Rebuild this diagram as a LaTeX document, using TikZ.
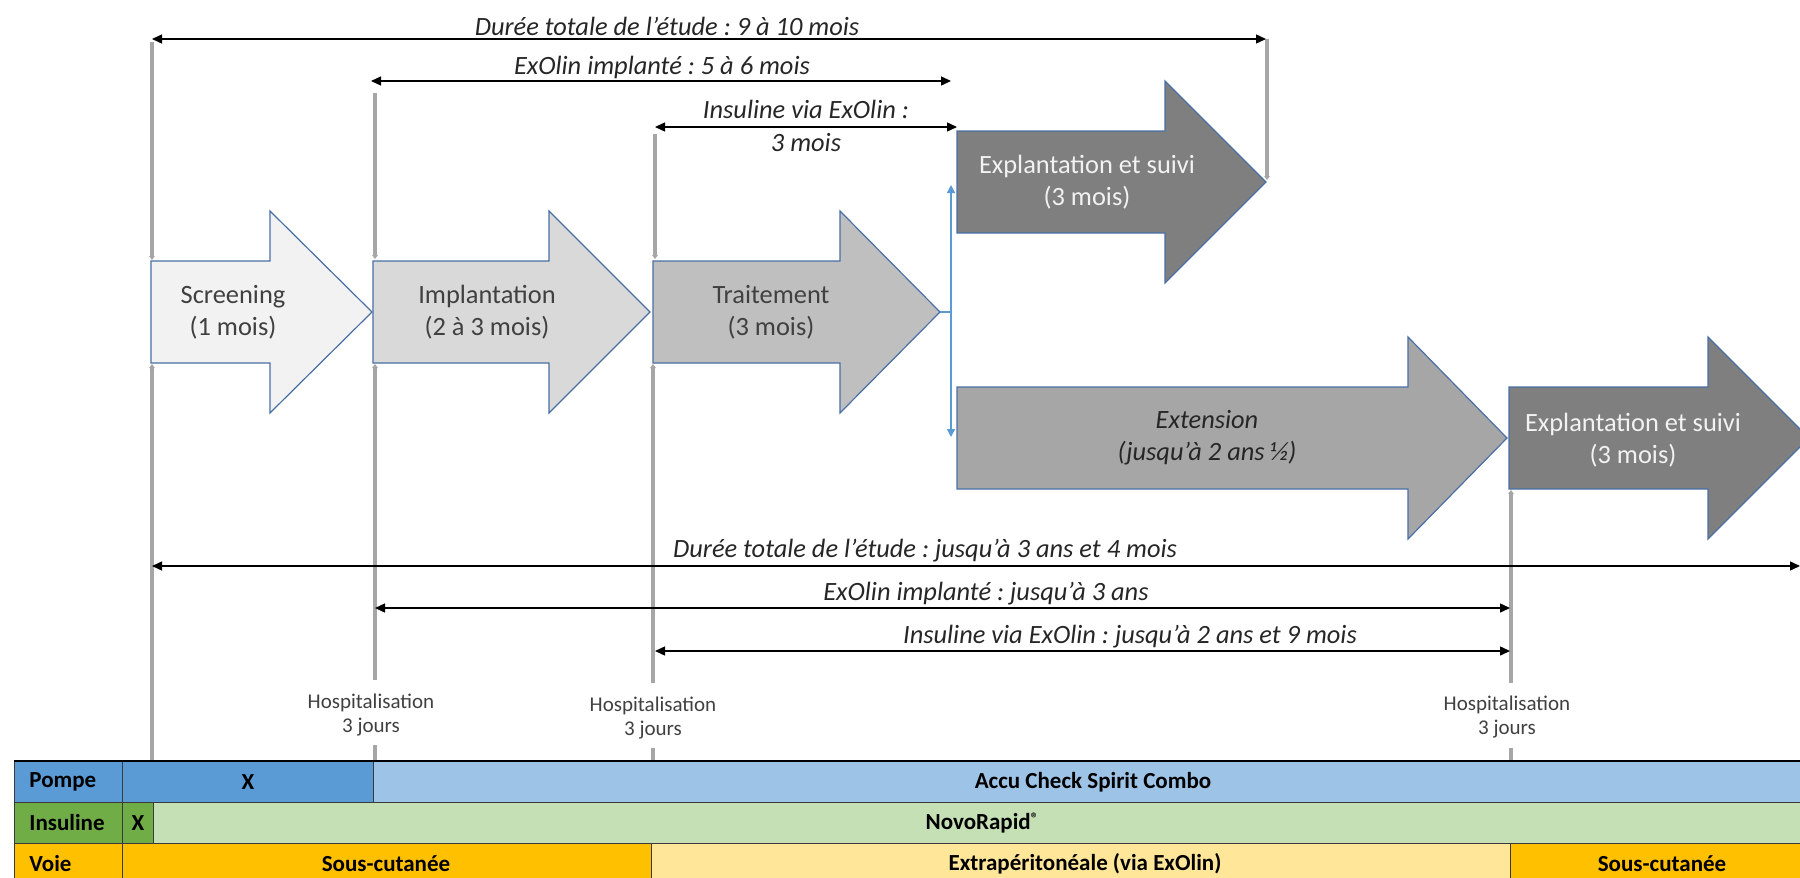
\documentclass[tikz,border=0pt]{standalone}
\usepackage{fontspec}
\setmainfont{Carlito}
\usetikzlibrary{arrows.meta}
\frenchspacing
\definecolor{edgeblue}{HTML}{4A6FA5}
\definecolor{gl}{HTML}{A6A6A6}
\definecolor{cA}{HTML}{F2F2F2}
\definecolor{cB}{HTML}{D9D9D9}
\definecolor{cC}{HTML}{BFBFBF}
\definecolor{cD}{HTML}{7F7F7F}
\definecolor{cE}{HTML}{A6A6A6}
\definecolor{txtdark}{HTML}{404040}
\definecolor{txtblack}{HTML}{262626}
\definecolor{conn}{HTML}{5B9BD5}
\definecolor{pompeD}{HTML}{5B9BD5}
\definecolor{pompeL}{HTML}{9DC3E6}
\definecolor{insD}{HTML}{70AD47}
\definecolor{insL}{HTML}{C5E0B4}
\definecolor{voieD}{HTML}{FFC000}
\definecolor{voieL}{HTML}{FFE699}
\definecolor{tblline}{HTML}{3A3A3A}
\newcommand\blkarrow[5]{%
  \path[#1] (#2,#5-51) -- (#3,#5-51) -- (#3,#5-101) -- (#4,#5) -- (#3,#5+101) -- (#3,#5+51) -- (#2,#5+51) -- cycle;}
\begin{document}
\begin{tikzpicture}[x=0.5pt,y=-0.5pt,
  blk/.style={draw=edgeblue, line width=0.6pt, line join=miter, fill=#1},
  gline/.style={draw=gl, line width=2pt},
  garr/.style={gline, -{Triangle[length=2pt,width=2.8pt]}},
  dimarr/.style={draw=black, line width=0.7pt, {Triangle[length=5pt,width=4.5pt]}-{Triangle[length=5pt,width=4.5pt]}},
  bconn/.style={draw=conn, line width=0.7pt},
  bconnarr/.style={bconn, -{Triangle[length=4pt,width=4pt]}},
  lbl/.style={font=\itshape\fontsize{13.2}{16.5}\selectfont, text=txtblack, inner sep=0pt, align=center},
  boxtxt/.style={font=\fontsize{13.2}{16}\selectfont, align=center, inner sep=0pt},
  hosp/.style={font=\fontsize{10.5}{12}\selectfont, align=center, text=txtdark, inner sep=0pt},
  cell/.style={draw=tblline, line width=0.5pt, fill=#1},
  tbl/.style={font=\bfseries\fontsize{11.5}{13}\selectfont, text=black, inner sep=0pt}
]
\useasboundingbox (0,0) rectangle (1800,878);
\clip (0,0) rectangle (1800,878);

% ---------- block arrows ----------
\blkarrow{blk=cA}{151}{270}{372}{312}
\blkarrow{blk=cB}{373}{549}{650}{312}
\blkarrow{blk=cC}{653}{840}{940}{312}
\blkarrow{blk=cD}{957}{1165}{1266}{182}
\blkarrow{blk=cE}{957}{1408}{1507}{438}
\blkarrow{blk=cD}{1509}{1708}{1809}{438}

\node[boxtxt, text=txtdark] (scr) at (233,312) {Screening\\(1 mois)};
\node[boxtxt, text=txtdark] (impl) at (487,312) {Implantation\\(2 à 3 mois)};
\node[boxtxt, text=txtdark] (trt) at (771,312) {Traitement\\(3 mois)};
\node[boxtxt, text=cA] (expl1) at (1087,182) {Explantation et suivi\\(3 mois)};
\node[boxtxt, text=txtblack, font=\itshape\fontsize{13.2}{16}\selectfont] (ext) at (1207,438) {Extension\\(jusqu’à 2 ans ½)};
\node[boxtxt, text=cA] (expl2) at (1633,440) {Explantation et suivi\\(3 mois)};

% ---------- blue fork connector ----------
\coordinate (trtTip) at (940,312);
\coordinate (fork) at (951,312);
\coordinate (forkUp) at (951,185);
\coordinate (forkDn) at (951,437);
\draw[bconnarr] (trtTip) -- (fork) -- (forkUp);
\draw[bconnarr] (fork) -- (forkDn);

% ---------- grey vertical lines (top) ----------
\coordinate (g1a) at (152,42);  \coordinate (g1b) at (152,260);
\coordinate (g2a) at (375,93);  \coordinate (g2b) at (375,259);
\coordinate (g3a) at (655,134); \coordinate (g3b) at (655,259);
\coordinate (g4a) at (1267,39); \coordinate (g4b) at (1267,180);
\draw[garr] (g1a) -- (g1b);
\draw[garr] (g2a) -- (g2b);
\draw[garr] (g3a) -- (g3b);
\draw[garr] (g4a) -- (g4b);

% ---------- grey vertical lines (bottom) ----------
\coordinate (h1a) at (152,761); \coordinate (h1b) at (152,364);
\coordinate (h2a) at (375,680); \coordinate (h2b) at (375,364);
\coordinate (h2c) at (375,745); \coordinate (h2d) at (375,761);
\coordinate (h3a) at (653,683); \coordinate (h3b) at (653,364);
\coordinate (h3c) at (653,748); \coordinate (h3d) at (653,761);
\coordinate (h4a) at (1511,683); \coordinate (h4b) at (1511,490);
\coordinate (h4c) at (1511,748); \coordinate (h4d) at (1511,761);
\draw[garr] (h1a) -- (h1b);
\draw[garr] (h2a) -- (h2b);
\draw[gline] (h2c) -- (h2d);
\draw[garr] (h3a) -- (h3b);
\draw[gline] (h3c) -- (h3d);
\draw[garr] (h4a) -- (h4b);
\draw[gline] (h4c) -- (h4d);

\node[hosp] (hosp1) at (371,715) {Hospitalisation\\3 jours};
\node[hosp] (hosp2) at (653,718) {Hospitalisation\\3 jours};
\node[hosp] (hosp3) at (1507,717) {Hospitalisation\\3 jours};

% ---------- duration arrows (top) ----------
\coordinate (a1l) at (152,39);  \coordinate (a1r) at (1266,39);
\coordinate (a2l) at (371,81);  \coordinate (a2r) at (951,81);
\coordinate (a3l) at (655,127); \coordinate (a3r) at (957,127);
\draw[dimarr] (a1l) -- (a1r);
\draw[dimarr] (a2l) -- (a2r);
\draw[dimarr] (a3l) -- (a3r);
\node[lbl, anchor=base] (t1) at (667,35) {Durée totale de l’étude : 9 à 10 mois};
\node[lbl, anchor=base] (t2) at (662,74) {ExOlin implanté : 5 à 6 mois};
\node[lbl] (t3) at (806,126) {Insuline via ExOlin :\\3 mois};

% ---------- duration arrows (bottom) ----------
\coordinate (b1l) at (152,566);  \coordinate (b1r) at (1800,566);
\coordinate (b2l) at (375,608);  \coordinate (b2r) at (1510,608);
\coordinate (b3l) at (655,651);  \coordinate (b3r) at (1510,651);
\draw[dimarr] (b1l) -- (b1r);
\draw[dimarr] (b2l) -- (b2r);
\draw[dimarr] (b3l) -- (b3r);
\node[lbl, anchor=base] (t4) at (925,557) {Durée totale de l’étude : jusqu’à 3 ans et 4 mois};
\node[lbl, anchor=base] (t5) at (986,600) {ExOlin implanté : jusqu’à 3 ans};
\node[lbl, anchor=base] (t6) at (1130,643) {Insuline via ExOlin : jusqu’à 2 ans et 9 mois};

% ---------- table ----------
\path[cell=pompeD] (14,761) rectangle (122,802);
\path[cell=pompeD] (122,761) rectangle (373,802);
\path[cell=pompeL] (373,761) rectangle (1815,802);
\path[cell=insD] (14,802) rectangle (122,843);
\path[cell=insD] (122,802) rectangle (153,843);
\path[cell=insL] (153,802) rectangle (1815,843);
\path[cell=voieD] (14,843) rectangle (122,884);
\path[cell=voieD] (122,843) rectangle (651,884);
\path[cell=voieL] (651,843) rectangle (1510,884);
\path[cell=voieD] (1510,843) rectangle (1815,884);
\draw[black, line width=1pt] (14,761) -- (1815,761);

\node[tbl, anchor=west] (rPompe) at (29,782) {Pompe};
\node[tbl] (pX) at (248,782) {X};
\node[tbl] (pAccu) at (1093,782) {Accu Check Spirit Combo};
\node[tbl, anchor=west] (rIns) at (29,823) {Insuline};
\node[tbl] (iX) at (138,823) {X};
\node[tbl] (iNovo) at (982,823) {NovoRapid\raisebox{0.55ex}{\fontsize{7.5}{8}\selectfont ®}};
\node[tbl, anchor=west] (rVoie) at (29,864) {Voie};
\node[tbl] (vSC1) at (386,864) {Sous-cutanée};
\node[tbl] (vExtra) at (1085,864) {Extrapéritonéale (via ExOlin)};
\node[tbl] (vSC2) at (1662,864) {Sous-cutanée};
\end{tikzpicture}
\end{document}
